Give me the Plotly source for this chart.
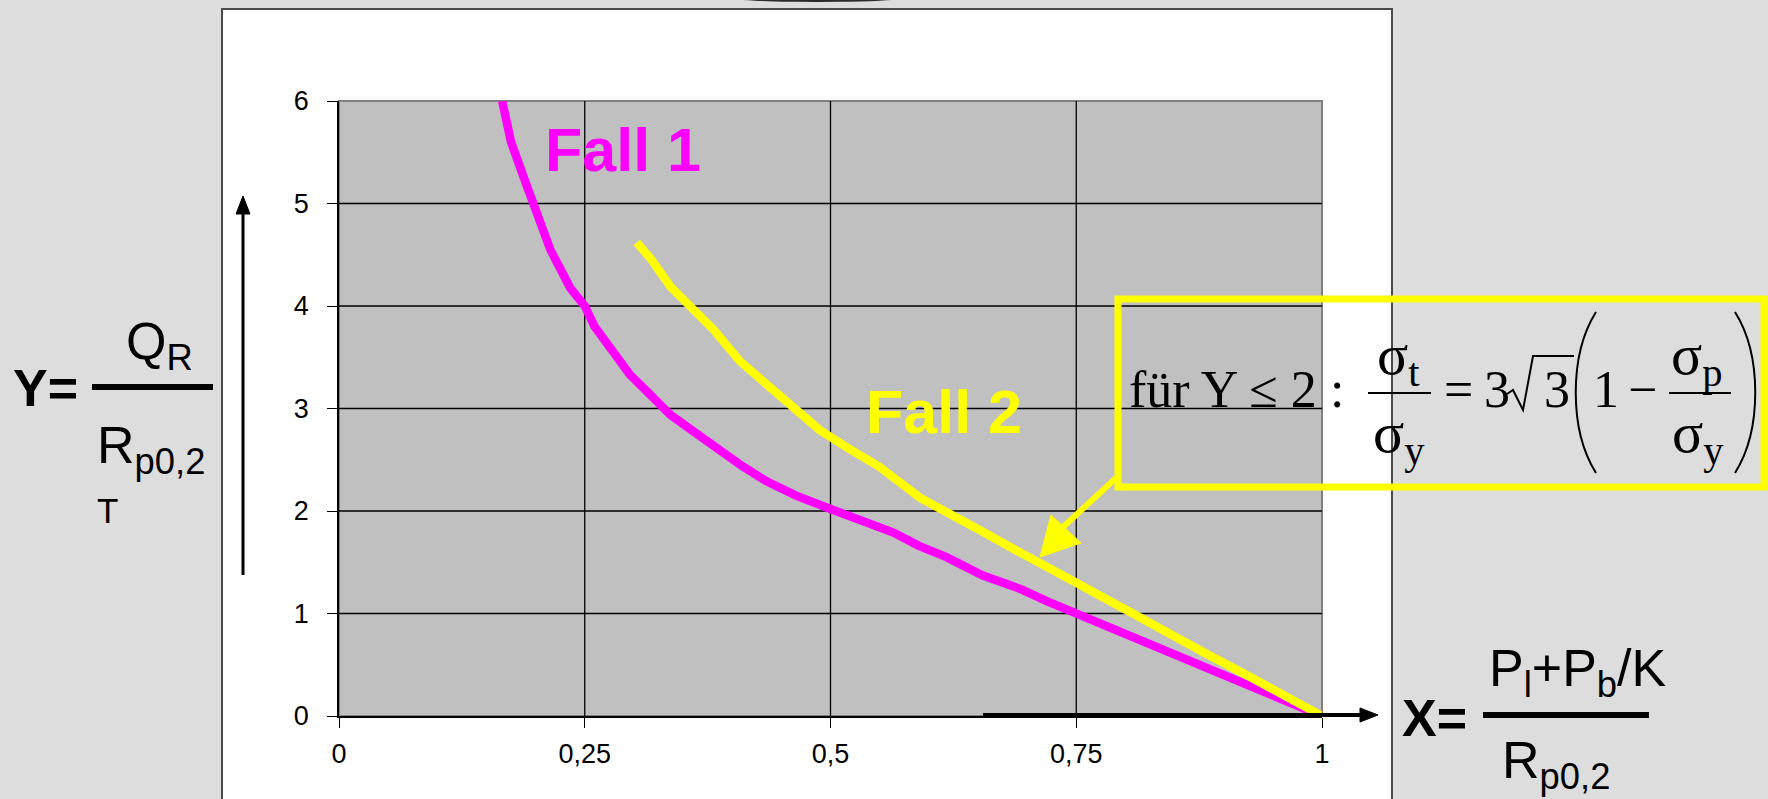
import plotly.graph_objects as go

# ---- data -------------------------------------------------------------
FALL1_X = [0.166, 0.175, 0.19, 0.198, 0.215, 0.235, 0.25, 0.26, 0.28, 0.296,
           0.315, 0.337, 0.36, 0.381, 0.41, 0.435, 0.465, 0.5, 0.535, 0.564,
           0.59, 0.618, 0.655, 0.693, 0.72, 0.75, 0.8, 0.859, 0.9, 0.944, 1.0]
FALL1_Y = [6.0, 5.6, 5.2, 5.0, 4.55, 4.18, 4.0, 3.8, 3.55, 3.33,
           3.15, 2.94, 2.78, 2.63, 2.44, 2.29, 2.15, 2.02, 1.89, 1.79,
           1.66, 1.55, 1.37, 1.24, 1.12, 1.0, 0.8, 0.57, 0.4, 0.22, 0.0]

FALL2_X = [0.303, 0.318, 0.337, 0.359, 0.381, 0.408, 0.435, 0.462, 0.489, 0.52,
           0.55, 0.591, 0.615, 0.632, 0.66, 0.69, 0.713, 0.75, 0.8, 0.842,
           0.88, 0.927, 0.96, 1.0]
FALL2_Y = [4.62, 4.45, 4.19, 3.99, 3.77, 3.46, 3.24, 3.02, 2.79, 2.6,
           2.43, 2.13, 2.01, 1.91, 1.77, 1.61, 1.5, 1.3, 1.04, 0.83,
           0.62, 0.38, 0.21, 0.0]

X_TICKS = [0, 0.25, 0.5, 0.75, 1]
X_TICK_LABELS = ["0", "0,25", "0,5", "0,75", "1"]
Y_TICKS = [0, 1, 2, 3, 4, 5, 6]
Y_TICK_LABELS = ["0", "1", "2", "3", "4", "5", "6"]

# ---- page geometry (pixels) ------------------------------------------
W, H = 1768, 799
PL, PR, PT, PB = 339, 1322, 101, 716   # plot area edges

SANS = "Liberation Sans, Arial, sans-serif"
SERIF = "Liberation Serif, Times New Roman, serif"
MAGENTA = "#FF00FF"
YELLOW = "#FFFF00"


def fx(p):
    return (p - PL) / (PR - PL)


def fy(p):
    return (PB - p) / (PB - PT)


shapes = []
annotations = []


def rect(x0, y0, x1, y1, **kw):
    shapes.append(dict(type="rect", xref="paper", yref="paper",
                       x0=fx(x0), x1=fx(x1), y0=fy(y0), y1=fy(y1), **kw))


def seg(x0, y0, x1, y1, color, width, layer="above"):
    shapes.append(dict(type="line", xref="paper", yref="paper",
                       x0=fx(x0), x1=fx(x1), y0=fy(y0), y1=fy(y1),
                       line=dict(color=color, width=width), layer=layer))


def poly(points, closed=False, fill=None, color="black", width=2):
    d = "M " + " L ".join(f"{fx(x):.5f},{fy(y):.5f}" for x, y in points)
    if closed:
        d += " Z"
    shapes.append(dict(type="path", xref="paper", yref="paper", path=d,
                       fillcolor=fill if fill else "rgba(0,0,0,0)",
                       line=dict(color=color, width=width), layer="above"))


def curve(p0, c1, c2, p1, color="black", width=2):
    pts = [p0, c1, c2, p1]
    s = [f"{fx(x):.5f},{fy(y):.5f}" for x, y in pts]
    d = f"M {s[0]} C {s[1]} {s[2]} {s[3]}"
    shapes.append(dict(type="path", xref="paper", yref="paper", path=d,
                       line=dict(color=color, width=width), layer="above"))


def text(x, y, s, size, family=SANS, color="black", xanchor="center"):
    annotations.append(dict(xref="paper", yref="paper", x=fx(x), y=fy(y),
                            text=s, showarrow=False, xanchor=xanchor,
                            yanchor="middle",
                            font=dict(size=size, family=family, color=color)))


# ---- background panels ------------------------------------------------
rect(222, 9, 1392, 830, fillcolor="white",
     line=dict(color="#4a4a4a", width=2), layer="below")
rect(PL, PT, PR, PB, fillcolor="#C0C0C0",
     line=dict(color="#808080", width=2), layer="below")
# dark shadow piece at the top edge
shapes.append(dict(type="circle", xref="paper", yref="paper",
                   x0=fx(705), x1=fx(930), y0=fy(2), y1=fy(-14),
                   fillcolor="#2a2a2a", line=dict(width=0), layer="below"))

# grid lines inside the plot area
for v in X_TICKS[1:-1]:
    shapes.append(dict(type="line", xref="x", yref="paper", x0=v, x1=v,
                       y0=0, y1=1, line=dict(color="black", width=1.3),
                       layer="below"))
for v in Y_TICKS[1:-1]:
    shapes.append(dict(type="line", xref="paper", yref="y", x0=0, x1=1,
                       y0=v, y1=v, line=dict(color="black", width=1.3),
                       layer="below"))

# ---- traces -----------------------------------------------------------
fig = go.Figure()
fig.add_trace(go.Scatter(x=FALL1_X, y=FALL1_Y, mode="lines", name="Fall 1",
                         line=dict(color=MAGENTA, width=8.5)))
fig.add_trace(go.Scatter(x=FALL2_X, y=FALL2_Y, mode="lines", name="Fall 2",
                         line=dict(color=YELLOW, width=8.5)))

# ---- curve labels -----------------------------------------------------
text(623, 150, "<b>Fall 1</b>", 61, color=MAGENTA)
text(944, 412, "<b>Fall 2</b>", 61, color=YELLOW)

# ---- axis arrows ------------------------------------------------------
seg(243, 575, 243, 208, "black", 3)
poly([(243, 196), (236, 214), (250, 214)], closed=True, fill="black",
     color="black", width=1)
seg(983, 715, 1364, 715, "black", 4)
poly([(1378, 715), (1360, 708), (1360, 722)], closed=True, fill="black",
     color="black", width=1)

# ---- Y axis title: Y = Q_R / R_p0,2 (T) --------------------------------
text(45, 388, "<b>Y=</b>", 52)
seg(92, 387, 213, 387, "black", 6)
text(159, 345, "Q<sub>R</sub>", 52)
text(151, 449, "R<sub>p0,2</sub>", 52)
text(107, 510, "T", 35)

# ---- X axis title: X = (P_l + P_b/K) / R_p0,2 --------------------------
text(1434, 718, "<b>X=</b>", 52)
seg(1483, 715, 1649, 715, "black", 6)
text(1578, 672, "P<sub>l</sub>+P<sub>b</sub>/K", 52)
text(1556, 764, "R<sub>p0,2</sub>", 52)

# ---- formula box --------------------------------------------------------
rect(1118, 299, 1764, 487, line=dict(color=YELLOW, width=7),
     fillcolor="rgba(0,0,0,0)", layer="above")
# pointer from the box to the Fall 2 curve
tail, tip = (1116, 478), (1040, 557)
seg(tail[0], tail[1], 1062, 528, YELLOW, 6)
poly([tip, (1051, 515), (1081, 543)], closed=True, fill=YELLOW,
     color=YELLOW, width=1)

F = 52
SG = 58               # size used for the sigma terms
BASE_C = 389          # vertical centre of the main text line
text(1223, BASE_C, "für Y ≤ 2", F, family=SERIF)
text(1337, BASE_C, ":", F, family=SERIF)
# sigma_t / sigma_y
text(1398, 358, "σ<sub>t</sub>", SG, family=SERIF)
seg(1368, 393, 1431, 393, "black", 2)
text(1399, 436, "σ<sub>y</sub>", SG, family=SERIF)
# = 3 sqrt(3)
text(1458, BASE_C, "=", F, family=SERIF)
text(1497, BASE_C, "3", F, family=SERIF)
poly([(1507, 394), (1513, 390), (1523, 410), (1533, 356), (1574, 356)],
     color="black", width=2)
text(1557, BASE_C, "3", F, family=SERIF)
# large parentheses
curve((1596, 312), (1569, 355), (1569, 430), (1596, 473), width=2)
curve((1735, 312), (1762, 355), (1762, 430), (1735, 473), width=2)
# 1 - sigma_p / sigma_y
text(1606, BASE_C, "1", F, family=SERIF)
text(1642, BASE_C, "−", F, family=SERIF)
text(1697, 358, "σ<sub>p</sub>", SG, family=SERIF)
seg(1669, 393, 1731, 393, "black", 2)
text(1698, 436, "σ<sub>y</sub>", SG, family=SERIF)

# ---- layout -------------------------------------------------------------
fig.update_layout(
    width=W, height=H,
    margin=dict(l=PL, r=W - PR, t=PT, b=H - PB, pad=0),
    paper_bgcolor="#DDDDDD",
    plot_bgcolor="#C0C0C0",
    showlegend=False,
    shapes=shapes,
    annotations=annotations,
    xaxis=dict(range=[0, 1], tickvals=X_TICKS, ticktext=X_TICK_LABELS,
               showgrid=False, zeroline=False, showline=True,
               linecolor="black", linewidth=1.5, ticks="outside",
               ticklen=10, tickwidth=1.3, tickcolor="black",
               ticklabelstandoff=3,
               tickfont=dict(size=27, family=SANS, color="black")),
    yaxis=dict(range=[0, 6], tickvals=Y_TICKS, ticktext=Y_TICK_LABELS,
               showgrid=False, zeroline=False, showline=True,
               linecolor="black", linewidth=1.5, ticks="outside",
               ticklen=10, tickwidth=1.3, tickcolor="black",
               ticklabelstandoff=13,
               tickfont=dict(size=27, family=SANS, color="black")),
)

fig.write_html("out.html")
